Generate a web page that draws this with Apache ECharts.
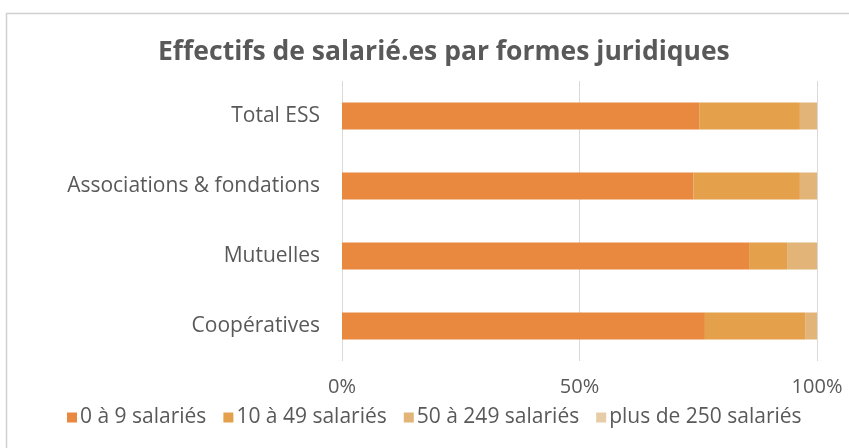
<!DOCTYPE html>
<html>
<head>
<meta charset="utf-8">
<script src="https://cdn.jsdelivr.net/npm/echarts@6/dist/echarts.min.js"></script>
<style>
  html, body { margin: 0; padding: 0; background: #fff; }
  #chart { width: 849px; height: 448px; }
</style>
</head>
<body>
<div id="chart"></div>
<script>
// categories, bottom to top as echarts draws them
const categories = ['Coopératives', 'Mutuelles', 'Associations & fondations', 'Total ESS']
const seriesNames = ['0 à 9 salariés', '10 à 49 salariés', '50 à 249 salariés', 'plus de 250 salariés']
// shares in %, same order as categories
const tiny = [76.4, 85.7, 74.0, 75.2]
const small = [21.1, 8.0, 22.4, 21.2]
const medium = [2.5, 6.3, 3.6, 3.6]
const large = [0, 0, 0, 0]
const colors = ['#E8893F', '#E4A04B', '#E3B478', '#E6CDA8']

const font = '"Open Sans", sans-serif'
const textColor = '#595959'

const values = [tiny, small, medium, large]

const chart = echarts.init(document.getElementById('chart'))

chart.setOption({
    animation: false,
    title: {
        text: 'Effectifs de salarié.es par formes juridiques',
        left: 153,
        top: 34,
        textStyle: { fontFamily: font, fontSize: 26.5, fontWeight: 'bold', color: textColor }
    },
    graphic: [{
        type: 'rect',
        shape: { x: 6.5, y: 13.5, width: 860, height: 460 },
        style: { fill: 'none', stroke: '#D0D0D0', lineWidth: 1.5 }
    }],
    legend: {
        bottom: 15,
        left: 62,
        itemWidth: 10,
        itemHeight: 10,
        itemGap: 17,
        icon: 'rect',
        textStyle: { fontFamily: font, fontSize: 21, color: textColor, padding: [0, 0, 0, -2] },
        data: seriesNames
    },
    grid: { left: 342, right: 32, top: 81, height: 280 },
    xAxis: {
        type: 'value',
        min: 0,
        max: 100,
        interval: 50,
        axisLine: { show: false },
        axisTick: { show: false },
        splitLine: { lineStyle: { color: '#D9D9D9', width: 1 } },
        axisLabel: {
            formatter: '{value}%',
            margin: 16,
            fontFamily: font, fontSize: 20, color: textColor
        }
    },
    yAxis: {
        type: 'category',
        data: categories,
        axisLine: { show: false },
        axisTick: { show: false },
        axisLabel: { margin: 22, fontFamily: font, fontSize: 21, color: textColor }
    },
    series: seriesNames.map((name, i) => ({
        name: name,
        type: 'bar',
        stack: 'total',
        barWidth: 27,
        itemStyle: { color: colors[i] },
        data: values[i]
    }))
})
</script>
</body>
</html>
